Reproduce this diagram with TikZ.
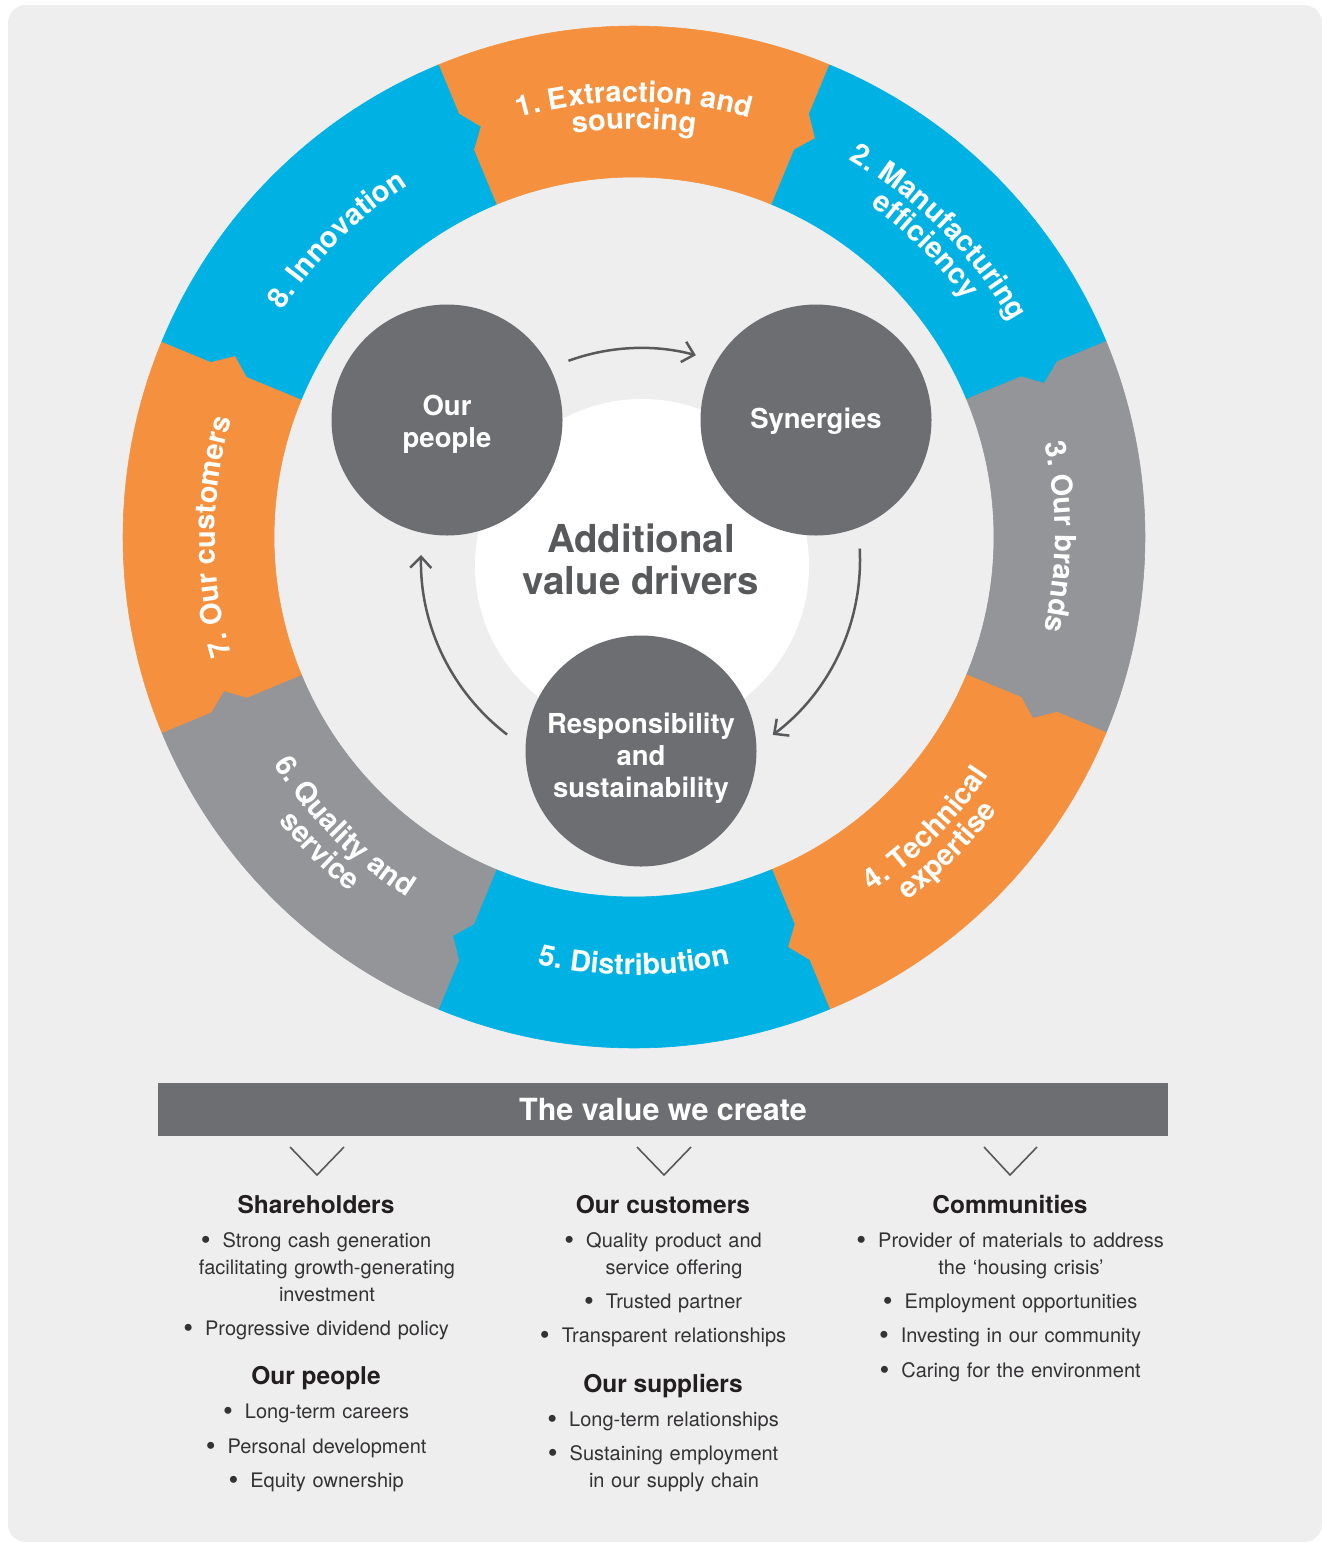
\documentclass[tikz,border=0pt]{standalone}
\usepackage{fontspec}
\setmainfont{TeX Gyre Heros}
\usetikzlibrary{arrows.meta,decorations.text}

\definecolor{ringorange}{HTML}{F5913E}
\definecolor{ringblue}{HTML}{00B2E3}
\definecolor{ringgrey}{HTML}{939598}
\definecolor{drivergrey}{HTML}{6D6E71}
\definecolor{arrowgrey}{HTML}{58595B}
\definecolor{paper}{HTML}{EEEEEE}
\definecolor{ink}{HTML}{231F20}
\definecolor{softink}{HTML}{343234}

\newcommand{\segfont}{\fontsize{29}{29}\selectfont\bfseries\color{white}}
\newcommand{\itembullet}{\llap{\raisebox{-2.5pt}{\fontsize{28}{28}\selectfont\textbullet}\hspace{12pt}}}

\tikzset{
  seg/.style={fill=#1, draw=#1, line width=0.6pt, line join=round},
  ringtext/.style={decorate, decoration={text along path, text align=center, text={|\segfont|#1}}},
  driver/.style={circle, fill=drivergrey, minimum size=231pt, inner sep=0pt},
  drivertext/.style={text=white, align=center, inner sep=0pt, font=\fontsize{27.5}{32}\selectfont\bfseries},
  flow/.style={draw=arrowgrey, line width=2.5pt, -{Straight Barb[length=11pt,width=21pt]}},
  chevron/.style={draw=arrowgrey, line width=1.6pt},
  head/.style={anchor=base, text=ink, font=\fontsize{24.5}{28}\selectfont\bfseries},
  item/.style={anchor=base, text=softink, align=center, text width=360pt, font=\fontsize{20}{27}\selectfont},
}

\begin{document}
\begin{tikzpicture}[x=1pt, y=1pt]
    \useasboundingbox (0,0) rectangle (1322,-1542);
    \fill[white] (0,0) rectangle (1322,-1542);
    \fill[paper, rounded corners=18pt] (8,-5) rectangle (1322,-1542);

    \begin{scope}[shift={(634,-537)}]
        % the eight pieces, each with its tab on the clockwise edge
        \path[seg=ringorange] (112.5:511) arc[start angle=112.5, end angle=67.5, radius=511] -- (67.5:458) -- (65.54:438) -- (67.5:419) -- (67.5:360) arc[start angle=67.5, end angle=112.5, radius=360] -- (112.5:419) -- (110.54:438) -- (112.5:458) -- cycle;
        \path[seg=ringblue] (67.5:511) arc[start angle=67.5, end angle=22.5, radius=511] -- (22.5:458) -- (20.54:438) -- (22.5:419) -- (22.5:360) arc[start angle=22.5, end angle=67.5, radius=360] -- (67.5:419) -- (65.54:438) -- (67.5:458) -- cycle;
        \path[seg=ringgrey] (22.5:511) arc[start angle=22.5, end angle=-22.5, radius=511] -- (-22.5:458) -- (-24.46:438) -- (-22.5:419) -- (-22.5:360) arc[start angle=-22.5, end angle=22.5, radius=360] -- (22.5:419) -- (20.54:438) -- (22.5:458) -- cycle;
        \path[seg=ringorange] (-22.5:511) arc[start angle=-22.5, end angle=-67.5, radius=511] -- (-67.5:458) -- (-69.46:438) -- (-67.5:419) -- (-67.5:360) arc[start angle=-67.5, end angle=-22.5, radius=360] -- (-22.5:419) -- (-24.46:438) -- (-22.5:458) -- cycle;
        \path[seg=ringblue] (-67.5:511) arc[start angle=-67.5, end angle=-112.5, radius=511] -- (-112.5:458) -- (-114.46:438) -- (-112.5:419) -- (-112.5:360) arc[start angle=-112.5, end angle=-67.5, radius=360] -- (-67.5:419) -- (-69.46:438) -- (-67.5:458) -- cycle;
        \path[seg=ringgrey] (-112.5:511) arc[start angle=-112.5, end angle=-157.5, radius=511] -- (-157.5:458) -- (-159.46:438) -- (-157.5:419) -- (-157.5:360) arc[start angle=-157.5, end angle=-112.5, radius=360] -- (-112.5:419) -- (-114.46:438) -- (-112.5:458) -- cycle;
        \path[seg=ringorange] (202.5:511) arc[start angle=202.5, end angle=157.5, radius=511] -- (157.5:458) -- (155.54:438) -- (157.5:419) -- (157.5:360) arc[start angle=157.5, end angle=202.5, radius=360] -- (202.5:419) -- (200.54:438) -- (202.5:458) -- cycle;
        \path[seg=ringblue] (157.5:511) arc[start angle=157.5, end angle=112.5, radius=511] -- (112.5:458) -- (110.54:438) -- (112.5:419) -- (112.5:360) arc[start angle=112.5, end angle=157.5, radius=360] -- (157.5:419) -- (155.54:438) -- (157.5:458) -- cycle;

        % labels running round the ring
        \path[ringtext={1. Extraction and}] (130:435) arc[start angle=130, end angle=50, radius=435];
        \path[ringtext={sourcing}] (130:408) arc[start angle=130, end angle=50, radius=408];
        \path[ringtext={2. Manufacturing}] (85:434) arc[start angle=85, end angle=5, radius=434];
        \path[ringtext={efficiency}] (85:407) arc[start angle=85, end angle=5, radius=407];
        \path[ringtext={3. Our brands}] (40:421) arc[start angle=40, end angle=-40, radius=421];
        \path[ringtext={4. Technical}] (-85:427) arc[start angle=-85, end angle=-5, radius=427];
        \path[ringtext={expertise}] (-85:455) arc[start angle=-85, end angle=-5, radius=455];
        \path[ringtext={5. Distribution}] (-130:438) arc[start angle=-130, end angle=-50, radius=438];
        \path[ringtext={6. Quality and}] (-175:426) arc[start angle=-175, end angle=-95, radius=426];
        \path[ringtext={service}] (-175:455) arc[start angle=-175, end angle=-95, radius=455];
        \path[ringtext={7. Our customers}] (220:419) arc[start angle=220, end angle=140, radius=419];
        \path[ringtext={8. Innovation}] (175:418) arc[start angle=175, end angle=95, radius=418];
    \end{scope}

    \fill[white] (642,-566) circle[radius=167];
    \node[text=arrowgrey, align=center, font=\fontsize{38.5}{42}\selectfont\bfseries] (adv) at (641,-559) {Additional\\value drivers};

    \node[driver] (people) at (447,-420) {};
    \node[driver] (syn) at (816,-420) {};
    \node[driver] (resp) at (641,-751) {};
    \node[drivertext] (people-t) at (447,-424) {Our\\people};
    \node[drivertext] (syn-t) at (816,-421) {Synergies};
    \node[drivertext] (resp-t) at (641,-758) {Responsibility\\and\\sustainability};

    \coordinate (hub) at (641,-560);
    \draw[flow] ([shift={(110:212)}]hub) arc[start angle=110, end angle=75, radius=212];
    \draw[flow] ([shift={(3:219)}]hub) arc[start angle=3, end angle=-53, radius=219];
    \draw[flow] ([shift={(232.5:220)}]hub) arc[start angle=232.5, end angle=178.7, radius=220];

    \node[fill=drivergrey, minimum width=1010pt, minimum height=53pt, inner sep=0pt, text=white, font=\fontsize{30.5}{34}\selectfont\bfseries] (value) at (663,-1109.5) {The value we create};
    \draw[chevron] (290,-1147) -- (317,-1175) -- (344,-1147);
    \draw[chevron] (637,-1147) -- (664,-1175) -- (691,-1147);
    \draw[chevron] (984,-1147) -- (1010,-1175) -- (1037,-1147);

    \node[head] (share) at (316,-1213) {Shareholders};
    \node[item] (share1) at (327,-1247) {\itembullet Strong cash generation\\facilitating growth-generating\\investment};
    \node[item] (share2) at (327,-1335) {\itembullet Progressive dividend policy};
    \node[head] (staff) at (316,-1384) {Our people};
    \node[item] (staff1) at (327,-1418) {\itembullet Long-term careers};
    \node[item] (staff2) at (327,-1453) {\itembullet Personal development};
    \node[item] (staff3) at (327,-1487) {\itembullet Equity ownership};

    \node[head] (cust) at (663,-1213) {Our customers};
    \node[item] (cust1) at (674,-1247) {\itembullet Quality product and\\service offering};
    \node[item] (cust2) at (674,-1308) {\itembullet Trusted partner};
    \node[item] (cust3) at (674,-1342) {\itembullet Transparent relationships};
    \node[head] (supp) at (663,-1392) {Our suppliers};
    \node[item] (supp1) at (674,-1426) {\itembullet Long-term relationships};
    \node[item] (supp2) at (674,-1460) {\itembullet Sustaining employment\\in our supply chain};

    \node[head] (comm) at (1010,-1213) {Communities};
    \node[item] (comm1) at (1021,-1247) {\itembullet Provider of materials to address\\the `housing crisis'};
    \node[item] (comm2) at (1021,-1308) {\itembullet Employment opportunities};
    \node[item] (comm3) at (1021,-1342) {\itembullet Investing in our community};
    \node[item] (comm4) at (1021,-1377) {\itembullet Caring for the environment};
\end{tikzpicture}
\end{document}
